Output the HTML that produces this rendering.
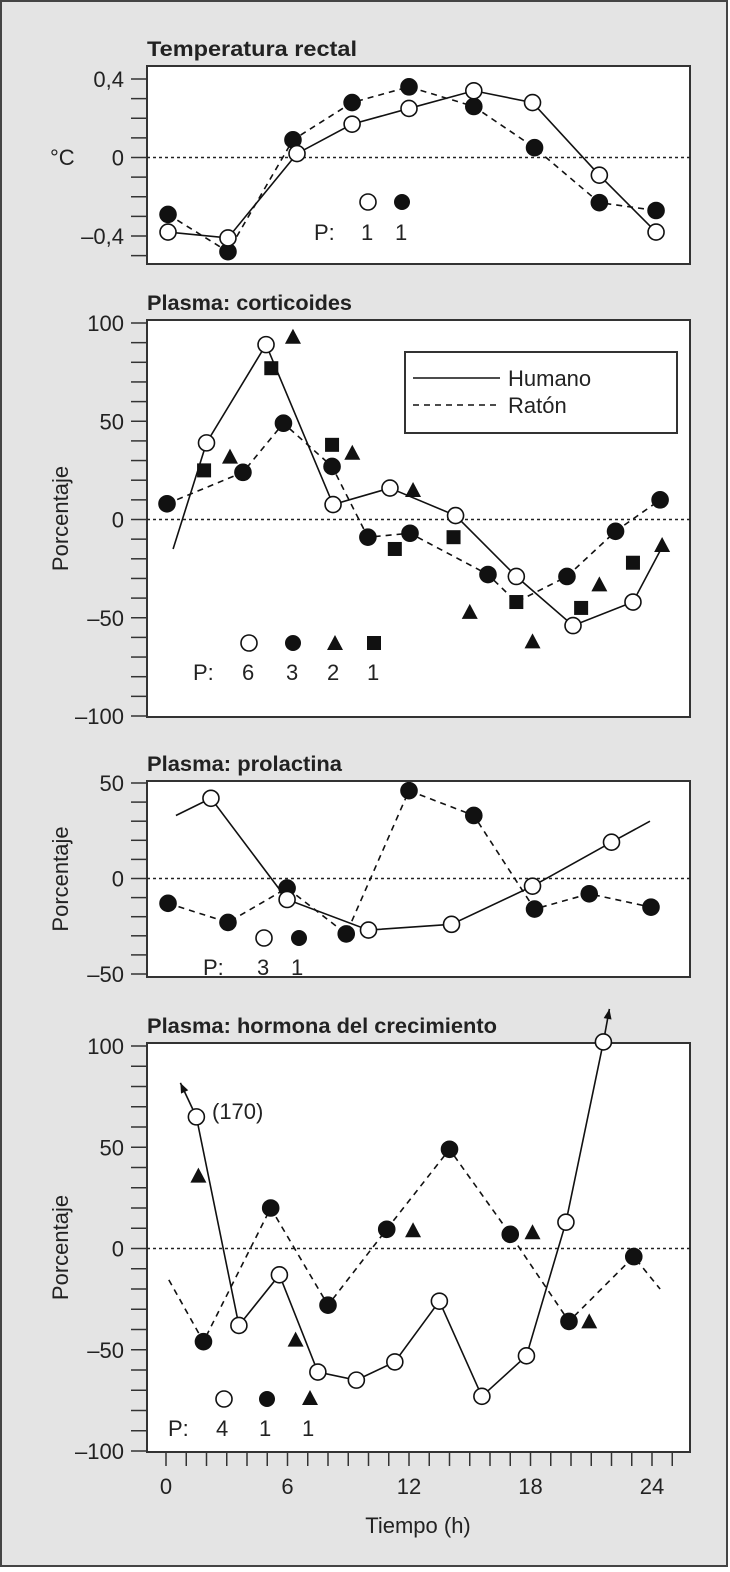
<!DOCTYPE html>
<html><head><meta charset="utf-8">
<style>
body{margin:0;background:#fff}
svg{display:block}
text{font-family:"Liberation Sans Narrow","Liberation Sans",sans-serif;fill:#222}
.t{font-weight:bold;font-size:21px}
.k{font-size:22px}
</style></head><body>
<svg id="c" width="730" height="1572" viewBox="0 0 730 1572" xmlns="http://www.w3.org/2000/svg">
<rect x="1" y="1" width="726" height="1565" fill="#e4e4e4" stroke="#444" stroke-width="2"/>
</svg>
<script>
// ---- data ----
const tempHumanH=[0.1,3.06,6.47,9.19,12,15.2,18.1,21.4,24.2];
const tempHumanV=[-0.38,-0.41,0.02,0.17,0.25,0.34,0.28,-0.09,-0.38];
const tempMouseH=[0.1,3.06,6.27,9.19,12,15.2,18.2,21.4,24.2];
const tempMouseV=[-0.29,-0.48,0.09,0.28,0.36,0.26,0.05,-0.23,-0.27];
const tempTicks=[0.4,0,-0.4];
const tempTickLabels=["0,4","0","\u20130,4"];

const corHumanLineH=[0.35,2.0,4.94,8.25,11.06,14.3,17.3,20.1,23.06,24.5];
const corHumanLineV=[-15,39,89,7.6,16,2,-29,-54,-42,-14];
const corHumanMarkH=[2.0,4.94,8.25,11.06,14.3,17.3,20.1,23.06];
const corHumanMarkV=[39,89,7.6,16,2,-29,-54,-42];
const corMouseH=[0.05,3.8,5.8,8.2,9.97,12.05,15.9,19.8,22.2,24.4];
const corMouseV=[8,24,49,27,-9,-7,-28,-29,-6,10];
const corMouseLineH=[0.05,3.8,5.8,8.2,9.97,12.05,15.9,17.3,19.8,22.2,24.4];
const corMouseLineV=[8,24,49,27,-9,-7,-28,-42,-29,-6,10];
const corTriH=[3.16,6.27,9.2,12.2,15.0,18.1,21.4,24.5];
const corTriV=[32,93,34,15,-47,-62,-33,-13];
const corSqH=[1.88,5.2,8.2,11.3,14.2,17.3,20.5,23.06];
const corSqV=[25,77,38,-15,-9,-42,-45,-22];
const pctTicks=[100,50,0,-50,-100];
const pctTickLabels=["100","50","0","\u201350","\u2013100"];

const proHumanLineH=[0.49,2.22,5.98,10.0,14.1,18.1,22.0,23.9];
const proHumanLineV=[33,42,-11,-27,-24,-4,19,30];
const proHumanMarkH=[2.22,5.98,10.0,14.1,18.1,22.0];
const proHumanMarkV=[42,-11,-27,-24,-4,19];
const proMouseH=[0.1,3.06,5.98,8.9,12,15.2,18.2,20.9,23.95];
const proMouseV=[-13,-23,-5,-29,46,33,-16,-8,-15];
const proTicks=[50,0,-50];
const proTickLabels=["50","0","\u201350"];

const ghHumanLineH=[1.5,3.6,5.6,7.5,9.4,11.3,13.5,15.6,17.8,19.75,21.6];
const ghHumanLineV=[65,-38,-13,-61,-65,-56,-26,-73,-53,13,102];
const ghMouseH=[1.85,5.17,8.0,10.9,14.0,17.0,19.9,23.1];
const ghMouseV=[-46,20,-28,9.5,49,7,-36,-4];
const ghMouseLineH=[0.14,1.85,5.17,8.0,10.9,14.0,17.0,19.9,23.1,24.4];
const ghMouseLineV=[-15.5,-46,20,-28,9.5,49,7,-36,-4,-20];
const ghTriH=[1.6,6.4,12.2,18.1,20.9];
const ghTriV=[36,-45,9,8,-36];
const xTicks=[0,6,12,18,24];

// ---- drawing ----
const NS="http://www.w3.org/2000/svg";
const svg=document.getElementById("c");
const X0=147,X1=690;
const xs=h=>166+h*20.25;
function el(tag,attrs,parent){const e=document.createElementNS(NS,tag);for(const k in attrs)e.setAttribute(k,attrs[k]);(parent||svg).appendChild(e);return e;}
function txt(s,attrs){const e=el("text",attrs);e.textContent=s;return e;}
function makeY(v0,p0,v1,p1){return v=>p0+(v-v0)*(p1-p0)/(v1-v0);}

function panel(name,title,tlen,top,bottom,ys,tmin,tmax,tstep,ticks,labels,ylabel){
  const tt=txt(title,{x:X0,y:top-10,class:"t",textLength:tlen,lengthAdjust:"spacingAndGlyphs"});
  
  
  const r=el("rect",{x:X0,y:top,width:X1-X0,height:bottom-top,fill:"#fff",stroke:"#333","stroke-width":2});
  
  
  for(let v=tmin;v<=tmax+1e-9;v+=tstep){const y=ys(v);if(y<top-1||y>bottom+1)continue;
    const t=el("line",{x1:131,x2:X0,y1:y,y2:y,stroke:"#333","stroke-width":1.5});
    
    }
  ticks.forEach((v,i)=>{const l=txt(labels[i],{x:124,y:ys(v)+8,class:"k","text-anchor":"end"});
    
    });
  const z=el("line",{x1:X0,x2:X1,y1:ys(0),y2:ys(0),stroke:"#222","stroke-width":1.5,"stroke-dasharray":"3,3"});
  
  
  if(ylabel){const yl=txt(ylabel,{x:0,y:0,class:"k","text-anchor":"middle",transform:`translate(68,${(top+bottom)/2}) rotate(-90)`});
    
    }
}
function line(H,V,ys,dashed,name){
  const p=el("polyline",{points:H.map((h,i)=>xs(h)+","+ys(V[i])).join(" "),fill:"none",stroke:"#111","stroke-width":1.6,"stroke-dasharray":dashed?"6,5":"none"});
  
  
}
function circles(H,V,ys,filled,name){H.forEach((h,i)=>{
  const c=el("circle",{cx:xs(h),cy:ys(V[i]),r:8,fill:filled?"#111":"#fff",stroke:"#111","stroke-width":1.6});
  
  });}
function tris(H,V,ys,name){H.forEach((h,i)=>{const x=xs(h),y=ys(V[i]);
  const t=el("polygon",{points:`${x-8},${y+7} ${x+8},${y+7} ${x},${y-8}`,fill:"#111"});
  
  });}
function squares(H,V,ys,name){H.forEach((h,i)=>{const x=xs(h),y=ys(V[i]);
  const s=el("rect",{x:x-7,y:y-7,width:14,height:14,fill:"#111"});
  
  });}
let m;

// Panel 1
const y1=makeY(0.4,79,-0.4,236);
panel("temperature-panel","Temperatura rectal",210,66,264,y1,-0.5,0.5,0.1,tempTicks,tempTickLabels,null);
const cl=txt("\u00B0C",{x:50,y:165,class:"k"});


line(tempHumanH,tempHumanV,y1,false,"human-line");
line(tempMouseH,tempMouseV,y1,true,"mouse-line");
circles(tempMouseH,tempMouseV,y1,true,"mouse-point");
circles(tempHumanH,tempHumanV,y1,false,"human-point");
m=el("circle",{cx:368,cy:202,r:8,fill:"#fff",stroke:"#111","stroke-width":1.6});

m=el("circle",{cx:402,cy:202,r:8,fill:"#111"});

[["P:",314],["1",361],["1",395]].forEach(([s,x])=>{m=txt(s,{x:x,y:240,class:"k"});
  });

// Panel 2
const y2=makeY(100,323,-100,716);
panel("corticoids-panel","Plasma: corticoides",205,320,717,y2,-100,100,10,pctTicks,pctTickLabels,"Porcentaje");
line(corHumanLineH,corHumanLineV,y2,false,"human-line");
line(corMouseLineH,corMouseLineV,y2,true,"mouse-line");
squares(corSqH,corSqV,y2,"square-point");
tris(corTriH,corTriV,y2,"triangle-point");
circles(corMouseH,corMouseV,y2,true,"mouse-point");
circles(corHumanMarkH,corHumanMarkV,y2,false,"human-point");
const lg=el("g",{});

el("rect",{x:405,y:352,width:272,height:81,fill:"#fff",stroke:"#333","stroke-width":2},lg);
el("line",{x1:413,x2:500,y1:378,y2:378,stroke:"#111","stroke-width":1.6},lg);
el("line",{x1:413,x2:500,y1:405,y2:405,stroke:"#111","stroke-width":1.6,"stroke-dasharray":"6,5"},lg);
m=txt("Humano",{x:508,y:386,class:"k"});
m=txt("Rat\u00F3n",{x:508,y:413,class:"k"});
[[249,"o"],[293,"c"],[335,"t"],[374,"s"]].forEach(([x,t])=>{
  if(t==="o")m=el("circle",{cx:x,cy:643,r:8,fill:"#fff",stroke:"#111","stroke-width":1.6});
  else if(t==="c")m=el("circle",{cx:x,cy:643,r:8,fill:"#111"});
  else if(t==="t")m=el("polygon",{points:`${x-8},${650} ${x+8},${650} ${x},${635}`,fill:"#111"});
  else m=el("rect",{x:x-7,y:636,width:14,height:14,fill:"#111"});
  });
[["P:",193],["6",242],["3",286],["2",327],["1",367]].forEach(([s,x])=>{m=txt(s,{x:x,y:680,class:"k"});
  });

// Panel 3
const y3=makeY(50,783,-50,974);
panel("prolactin-panel","Plasma: prolactina",195,781,977,y3,-50,50,10,proTicks,proTickLabels,"Porcentaje");
line(proHumanLineH,proHumanLineV,y3,false,"human-line");
line(proMouseH,proMouseV,y3,true,"mouse-line");
circles(proMouseH,proMouseV,y3,true,"mouse-point");
circles(proHumanMarkH,proHumanMarkV,y3,false,"human-point");
m=el("circle",{cx:264,cy:938,r:8,fill:"#fff",stroke:"#111","stroke-width":1.6});

m=el("circle",{cx:299,cy:938,r:8,fill:"#111"});

[["P:",203],["3",257],["1",291]].forEach(([s,x])=>{m=txt(s,{x:x,y:975,class:"k"});
  });

// Panel 4
const y4=makeY(100,1046,-100,1451);
panel("growth-hormone-panel","Plasma: hormona del crecimiento",350,1043,1452,y4,-100,100,10,pctTicks,pctTickLabels,"Porcentaje");
line(ghHumanLineH,ghHumanLineV,y4,false,"human-line");
line(ghMouseLineH,ghMouseLineV,y4,true,"mouse-line");
function arrow(h,v,dx,dy,name){const x=xs(h),y=y4(v);const ex=x+dx,ey=y+dy;
  const g=el("g",{});
  el("line",{x1:x,y1:y,x2:ex,y2:ey,stroke:"#111","stroke-width":1.6},g);
  const L=Math.hypot(dx,dy),ux=dx/L,uy=dy/L;
  el("polygon",{points:`${ex},${ey} ${ex-ux*10-uy*4},${ey-uy*10+ux*4} ${ex-ux*10+uy*4},${ey-uy*10-ux*4}`,fill:"#111"},g);}
arrow(ghHumanLineH[0],ghHumanLineV[0],-16,-34,"offscale-arrow");
arrow(ghHumanLineH[10],ghHumanLineV[10],6,-33,"offscale-arrow");
tris(ghTriH,ghTriV,y4,"triangle-point");
circles(ghMouseH,ghMouseV,y4,true,"mouse-point");
circles(ghHumanLineH,ghHumanLineV,y4,false,"human-point");
m=txt("(170)",{x:212,y:1119,class:"k"});
m=el("circle",{cx:224,cy:1399,r:8,fill:"#fff",stroke:"#111","stroke-width":1.6});

m=el("circle",{cx:267,cy:1399,r:8,fill:"#111"});

m=el("polygon",{points:"302,1405 318,1405 310,1390",fill:"#111"});

[["P:",168],["4",216],["1",259],["1",302]].forEach(([s,x])=>{m=txt(s,{x:x,y:1436,class:"k"});
  });

// x axis
for(let h=-1;h<=26;h++){const x=xs(h);if(x<X0+2||x>X1-2)continue;
  const t=el("line",{x1:x,x2:x,y1:1452,y2:1466,stroke:"#333","stroke-width":1.5});
  }
xTicks.forEach(h=>{const l=txt(String(h),{x:xs(h),y:1494,class:"k","text-anchor":"middle"});
  });
m=txt("Tiempo (h)",{x:418,y:1533,class:"k","text-anchor":"middle"});

</script>
</body></html>
